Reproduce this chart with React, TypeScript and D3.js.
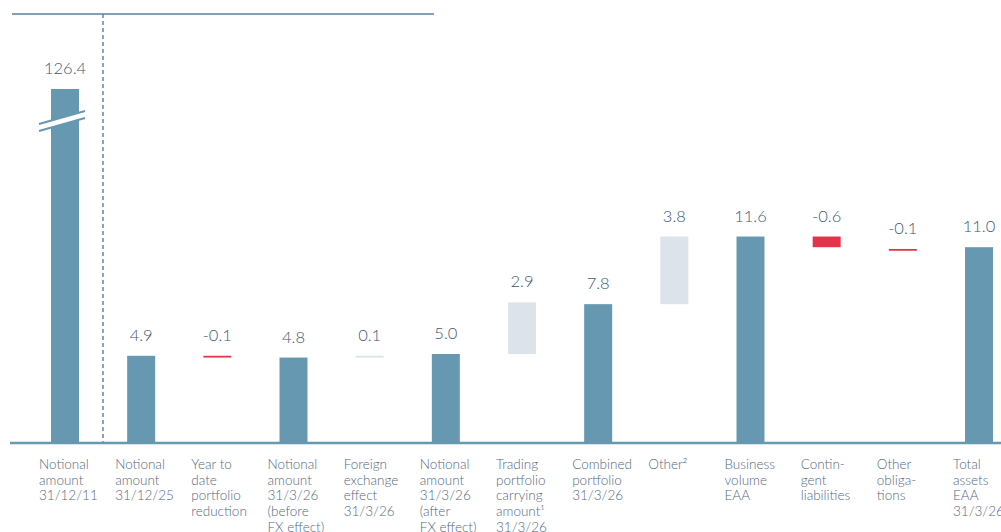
import React from "react";
import * as d3 from "d3";

const categories = [
  "n2011", "n2025", "ytd", "nBefore", "fx", "nAfter", "trading", "combined",
  "other", "business", "contingent", "otherObl", "total",
];
const labelLines: string[][] = [
  ["Notional", "amount", "31/12/11"],
  ["Notional", "amount", "31/12/25"],
  ["Year to", "date", "portfolio", "reduction"],
  ["Notional", "amount", "31/3/26", "(before", "FX effect)"],
  ["Foreign", "exchange", "effect", "31/3/26"],
  ["Notional", "amount", "31/3/26", "(after", "FX effect)"],
  ["Trading", "portfolio", "carrying", "amount¹", "31/3/26"],
  ["Combined", "portfolio", "31/3/26"],
  ["Other²"],
  ["Business", "volume", "EAA"],
  ["Contin-", "gent", "liabilities"],
  ["Other", "obliga-", "tions"],
  ["Total", "assets", "EAA", "31/3/26"],
];
const valueLabels = ["126.4", "4.9", "-0.1", "4.8", "0.1", "5.0", "2.9", "7.8", "3.8", "11.6", "-0.6", "-0.1", "11.0"];
const barStart = [0, 0, 4.9, 0, 4.8, 0, 5.0, 0, 7.8, 0, 11.6, 10.9, 0];
const barEnd = [126.4, 4.9, 4.8, 4.8, 4.9, 5.0, 7.9, 7.8, 11.6, 11.6, 11.0, 10.8, 11.0];
const barKind = ["total", "total", "neg", "total", "pos", "total", "pos", "total", "pos", "total", "neg", "neg", "total"];

const W = 1001;
const H = 532;
const colors: Record<string, string> = { total: "#6699b1", pos: "#dde3ea", neg: "#e5334b" };
const textColor = "#3f5876";
const labelColor = "#55697f";
const font = "Lato, 'Open Sans', sans-serif";

export default function App() {
  const x = d3.scalePoint<string>().domain(categories).range([65, 979]);
  const y = d3.scaleLinear().domain([0, 10]).range([443, 265]);
  const bw = 28;
  const clipTop = 89; // broken bar display top
  return (
    <svg width={W} height={H} style={{ position: "absolute", left: 0, top: 0 }}>
      <line x1={12} x2={434} y1={14} y2={14} stroke="#5e7c9a" strokeWidth={1.4} />
      <line x1={103} x2={103} y1={14} y2={443} stroke="#5e7c9a" strokeWidth={1.4} strokeDasharray="4,3" />
      {categories.map((c, i) => {
        const cx = x(c)!;
        let y0 = y(Math.max(barStart[i], barEnd[i]));
        const y1 = y(Math.min(barStart[i], barEnd[i]));
        const broken = y0 < clipTop;
        if (broken) y0 = clipTop;
        return (
          <g key={c}>
            <rect x={cx - bw / 2} y={y0} width={bw} height={Math.max(y1 - y0, 1.5)} fill={colors[barKind[i]]} />
            {broken && (
              <g>
                <polygon
                  points={`${cx - 26},${124} ${cx + 20},${111} ${cx + 20},${118} ${cx - 26},${131}`}
                  fill="#fff"
                />
                <line x1={cx - 26} y1={124} x2={cx + 20} y2={111} stroke={colors.total} strokeWidth={2} />
                <line x1={cx - 26} y1={131} x2={cx + 20} y2={118} stroke={colors.total} strokeWidth={2} />
              </g>
            )}
            <text x={cx} y={y0 - 15} textAnchor="middle" fontFamily={font} fontWeight={300} fontSize={16.5} fill={textColor}>
              {valueLabels[i]}
            </text>
            <text x={cx - 26} y={469} fontFamily={font} fontWeight={300} fontSize={13.5} fill={labelColor}>
              {labelLines[i].map((l, j) => (
                <tspan key={j} x={cx - 26} dy={j === 0 ? 0 : 15.7}>
                  {l}
                </tspan>
              ))}
            </text>
          </g>
        );
      })}
      <line x1={10} x2={W} y1={443} y2={443} stroke={colors.total} strokeWidth={2.5} />
    </svg>
  );
}
